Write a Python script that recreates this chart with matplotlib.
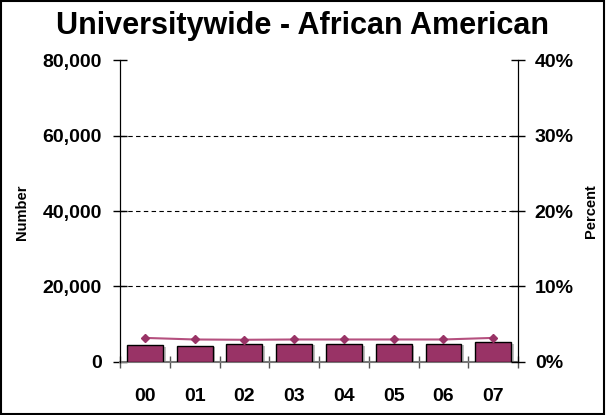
import matplotlib.pyplot as plt
import matplotlib.patheffects as pe
import numpy as np

# data
years = ["00", "01", "02", "03", "04", "05", "06", "07"]
number = [4420, 4340, 4610, 4870, 4690, 4610, 4870, 5220]
percent = [3.18, 2.97, 2.93, 2.97, 2.97, 2.97, 2.97, 3.18]

plt.rcParams["font.family"] = ["Liberation Sans", "DejaVu Sans"]
plt.rcParams["font.weight"] = "bold"

fig = plt.figure(figsize=(6.06, 4.15), dpi=100)
fig.patches.append(plt.Rectangle((0.002, 0.003), 0.995, 0.994, transform=fig.transFigure,
                                 fill=False, edgecolor="black", linewidth=1.5))

ax = fig.add_axes([0.198, 0.128, 0.657, 0.727])
x = np.arange(len(years))

# bars with a little grey shadow
ax.bar(x, number, width=0.72, color="#993366", edgecolor="black", linewidth=1, zorder=3,
       path_effects=[pe.withSimplePatchShadow(offset=(2, -1), shadow_rgbFace="gray", alpha=0.5)])
ax.set_ylim(0, 80000)
ax.set_xlim(-0.5, 7.5)
ax.set_yticks([0, 20000, 40000, 60000, 80000])
ax.set_yticklabels(["0", "20,000", "40,000", "60,000", "80,000"], fontsize=14, fontweight="bold")
for v in [20000, 40000, 60000]:
    ax.axhline(v, color="black", linestyle=(0, (4, 3)), linewidth=0.8, zorder=1)

ax.set_xticks(x)
ax.set_xticklabels(years, fontsize=14, fontweight="bold")
ax.tick_params(axis="x", length=0, pad=19)
ax.set_xticks(np.arange(-0.5, 8.0, 1), minor=True)
ax.tick_params(axis="x", which="minor", direction="inout", length=9, width=1, color="#555555")
ax.tick_params(axis="y", direction="inout", length=10, width=1, pad=8)
ax.spines["bottom"].set_color("#777777")
ax.spines["bottom"].set_linewidth(1.5)
ax.spines["top"].set_visible(False)

# percent line
ax2 = ax.twinx()
ax2.plot(x, percent, color="#b5507f", linewidth=1.5, marker="D", markersize=4,
         markerfacecolor="#993366", markeredgecolor="#993366", zorder=4)
ax2.set_ylim(0, 40)
ax2.set_yticks([0, 10, 20, 30, 40])
ax2.set_yticklabels(["0%", "10%", "20%", "30%", "40%"], fontsize=14, fontweight="bold")
ax2.tick_params(axis="y", direction="inout", length=10, width=1, pad=7)
ax2.spines["top"].set_visible(False)
ax2.spines["bottom"].set_visible(False)

# axis titles
fig.text(0.037, 0.489, "Number", rotation=90, ha="center", va="center",
         fontsize=10.5, fontweight="bold")
fig.text(0.975, 0.491, "Percent", rotation=90, ha="center", va="center",
         fontsize=10.5, fontweight="bold")

fig.text(0.5, 0.937, "Universitywide - African American", ha="center", va="center",
         fontsize=22, fontweight="bold")

fig.savefig("out.png", dpi=100)
